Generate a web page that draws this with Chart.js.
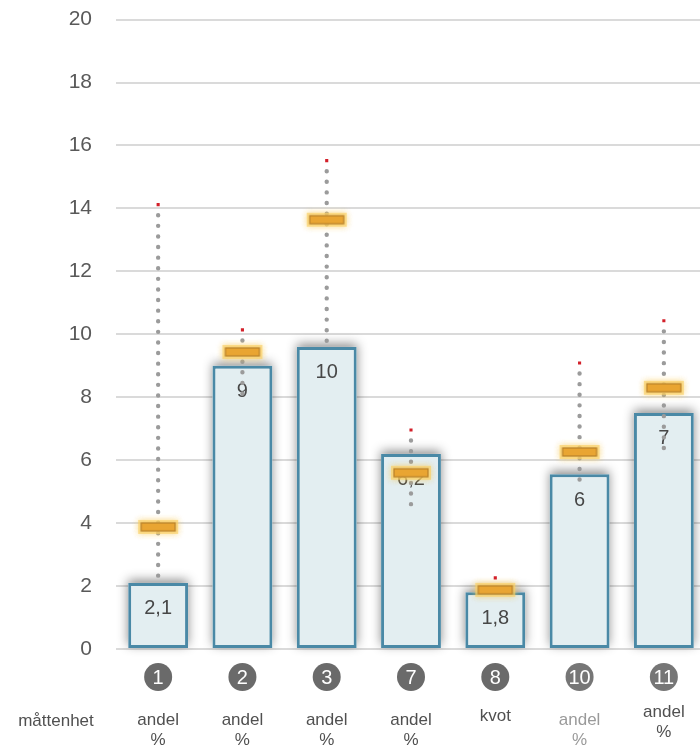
<!DOCTYPE html>
<html>
<head>
<meta charset="utf-8">
<script src="https://cdn.jsdelivr.net/npm/chart.js@4.4.1/dist/chart.umd.min.js"></script>
<style>
  html, body { margin: 0; padding: 0; background: #fff; overflow: hidden; }
  #wrap { position: relative; width: 712px; height: 764px; margin-top: -17px; }
</style>
</head>
<body>
<div id="wrap"><canvas id="myChart"></canvas></div>
<script>
// values
const categories = ['1', '2', '3', '7', '8', '10', '11']
const barValues = [2.1, 9.0, 9.6, 6.2, 1.8, 5.55, 7.5]
const barLabels = ['2,1', '9', '10', '6,2', '1,8', '6', '7']
const markerValues = [3.88, 9.44, 13.64, 5.6, 1.88, 6.26, 8.3]
const rangeMin = [2.1, 8.0, 9.6, 4.6, 1.8, 5.3, 6.3]
const rangeMax = [14.12, 10.14, 15.52, 6.96, 2.26, 9.09, 10.43]
const units = [['andel', '%'], ['andel', '%'], ['andel', '%'], ['andel', '%'], ['kvot'], ['andel', '%'], ['andel', '%']]
const unitHeader = 'måttenhet'
const yMin = 0
const yMax = 20
const yStep = 2

const FONT = "'Liberation Sans', Arial, sans-serif"

// orange marker with a soft glow, used as point style
function makeMarker() {
  const c = document.createElement('canvas')
  c.width = 54
  c.height = 28
  const g = c.getContext('2d')
  g.fillStyle = 'rgba(250, 208, 100, 0.4)'
  g.shadowColor = 'rgba(248, 200, 80, 0.9)'
  g.shadowBlur = 6
  g.fillRect(7, 7, 40, 14)
  g.fillRect(7, 7, 40, 14)
  g.shadowBlur = 0
  g.fillStyle = '#e9a532'
  g.fillRect(10, 10, 34, 8)
  g.strokeStyle = '#b8802a'
  g.lineWidth = 1.2
  g.strokeRect(10, 10, 34, 8)
  return c
}

const extras = {
  id: 'extras',
  beforeDatasetDraw(chart, args) {
    if (args.index !== 0) return
    // soft shadow behind the bars
    const ctx = chart.ctx
    chart.getDatasetMeta(0).data.forEach(el => {
      const p = el.getProps(['x', 'y', 'base', 'width'], true)
      ctx.save()
      ctx.shadowColor = 'rgba(0, 0, 0, 0.45)'
      ctx.shadowBlur = 10
      ctx.shadowOffsetY = -3
      ctx.fillStyle = '#e3eef1'
      ctx.fillRect(p.x - p.width / 2, p.y, p.width, p.base - p.y)
      ctx.restore()
    })
  },
  afterDatasetDraw(chart, args) {
    if (args.index !== 0) return
    const ctx = chart.ctx
    const x = chart.scales.x
    const y = chart.scales.y

    // value labels inside the bars
    ctx.save()
    ctx.font = '20px ' + FONT
    ctx.fillStyle = '#474747'
    ctx.textAlign = 'center'
    ctx.textBaseline = 'middle'
    barLabels.forEach((t, i) => {
      ctx.fillText(t, x.getPixelForValue(i), y.getPixelForValue(barValues[i]) + 26)
    })
    ctx.restore()

    // dotted range lines
    ctx.save()
    ctx.strokeStyle = '#9b9b9b'
    ctx.lineWidth = 4.4
    ctx.lineCap = 'round'
    ctx.setLineDash([0, 10.6])
    rangeMin.forEach((mn, i) => {
      const px = x.getPixelForValue(i)
      ctx.beginPath()
      ctx.moveTo(px, y.getPixelForValue(rangeMax[i]) + 10.6)
      ctx.lineTo(px, y.getPixelForValue(mn))
      ctx.stroke()
    })
    ctx.restore()
  },
  afterDraw(chart) {
    const ctx = chart.ctx
    const x = chart.scales.x
    const bottom = chart.chartArea.bottom
    const shift = [0, 0, 0, 0, -4, 0, -8]
    ctx.save()
    ctx.textAlign = 'center'
    ctx.textBaseline = 'middle'
    categories.forEach((c, i) => {
      const px = x.getPixelForValue(i)
      ctx.fillStyle = i >= 5 ? '#767676' : '#6a6a6a'
      ctx.beginPath()
      ctx.arc(px, bottom + 28, 14, 0, Math.PI * 2)
      ctx.fill()
      ctx.fillStyle = '#fff'
      ctx.font = '20px ' + FONT
      ctx.fillText(c, px, bottom + 29)

      ctx.fillStyle = i === 5 ? '#9a9a9a' : '#505050'
      ctx.font = '17px ' + FONT
      units[i].forEach((u, k) => {
        ctx.fillText(u, px, bottom + 71 + k * 20 + shift[i])
      })
    })
    ctx.fillStyle = '#505050'
    ctx.font = '17px ' + FONT
    ctx.fillText(unitHeader, 56, bottom + 72)
    ctx.restore()
  }
}

const ctx = document.getElementById('myChart')
const myChart = new Chart(ctx, {
  type: 'bar',
  data: {
    labels: categories,
    datasets: [
      {
        type: 'bar',
        data: barValues,
        backgroundColor: '#e3eef1',
        borderColor: '#4a89a6',
        borderWidth: 3,
        borderSkipped: false,
        barPercentage: 0.71,
        categoryPercentage: 1,
        order: 3
      },
      {
        type: 'line',
        data: markerValues,
        showLine: false,
        pointStyle: makeMarker(),
        order: 2
      },
      {
        type: 'line',
        data: rangeMax,
        showLine: false,
        pointStyle: 'rect',
        pointRadius: 2.2,
        backgroundColor: '#d3202a',
        borderColor: '#d3202a',
        borderWidth: 0,
        order: 1
      }
    ]
  },
  options: {
    responsive: true,
    maintainAspectRatio: false,
    animation: false,
    devicePixelRatio: 1,
    layout: { padding: { top: 0, right: 6, bottom: 98, left: 0 } },
    plugins: { legend: { display: false }, tooltip: { enabled: false } },
    scales: {
      x: {
        ticks: { display: false },
        grid: { display: false, drawTicks: false },
        border: { display: false }
      },
      y: {
        min: yMin,
        max: yMax,
        afterFit(scale) { scale.width = 116 },
        ticks: {
          stepSize: yStep,
          padding: 24,
          color: '#595959',
          font: { family: FONT, size: 21 }
        },
        grid: { color: '#dadada', lineWidth: 2, drawTicks: false },
        border: { display: false }
      }
    }
  },
  plugins: [extras]
})
</script>
</body>
</html>
